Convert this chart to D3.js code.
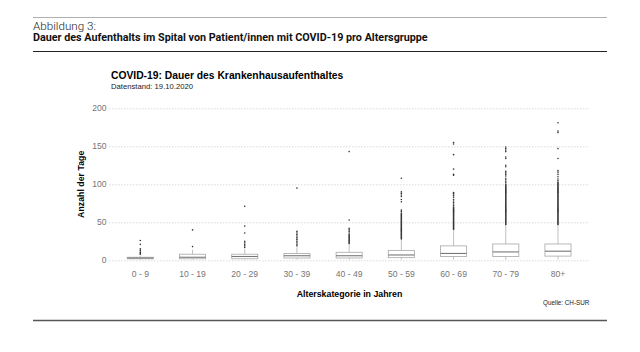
<!DOCTYPE html>
<html>
<head>
<meta charset="utf-8">
<script src="https://cdn.jsdelivr.net/npm/d3@7"></script>
<style>
  body { margin: 0; background: #fff; }
  svg { display: block; }
  .r { font-family: "Liberation Sans", Arial, sans-serif; }
  .hd { font-family: Roboto, "DejaVu Sans", sans-serif; }
</style>
</head>
<body>
<svg id="chart" width="640" height="352"></svg>
<script>
// age groups
var categories = ["0 - 9", "10 - 19", "20 - 29", "30 - 39", "40 - 49", "50 - 59", "60 - 69", "70 - 79", "80+"];

// box statistics (days)
var whiskerLow  = [1, 1, 1, 1, 1, 1, 1, 1, 1];
var q1          = [2, 2, 2, 3, 3, 3.5, 5, 5, 5.5];
var medians     = [3, 4, 5, 6, 6, 7, 9, 11, 12];
var q3          = [4, 8, 8, 9, 10.5, 13, 19, 21.5, 21.5];
var whiskerHigh = [6, 14, 15, 17, 21, 27, 40, 46, 46];

// outliers per age group
var out0to9   = [8, 9, 10, 11, 13, 15, 21, 26];
var out10to19 = [18, 40];
var out20to29 = [17, 19, 21, 23, 25, 36, 45, 71];
var out30to39 = [19, 21, 23, 25, 27, 28, 30, 32, 34, 36, 38, 95];
var out40to49 = [22, 23, 24, 25, 26, 27, 28, 29, 30, 31, 32, 33, 34, 36, 38, 40, 42, 53, 143];
var out50to59 = [28, 29, 30, 31, 32, 33, 34, 35, 36, 37, 38, 39, 40, 41, 42, 43, 44, 45, 46, 47,
                 48, 49, 50, 51, 52, 53, 54, 55, 56, 57, 58, 59, 60, 61, 62, 64, 66, 77, 80, 84,
                 86, 88, 90, 108];
var out60to69 = [41, 42, 43, 44, 45, 46, 47, 48, 49, 50, 51, 52, 53, 54, 55, 56, 57, 58, 59, 60,
                 61, 62, 63, 64, 65, 66, 67, 68, 69, 70, 72, 74, 76, 78, 80, 83, 85, 86, 88, 89,
                 112, 113, 120, 139, 153, 155];
var out70to79 = [47, 48, 49, 50, 51, 52, 53, 54, 55, 56, 57, 58, 59, 60, 61, 62, 63, 64, 65, 66,
                 67, 68, 69, 70, 71, 72, 73, 74, 75, 76, 77, 78, 79, 80, 81, 82, 83, 84, 85, 86,
                 87, 88, 89, 90, 91, 92, 93, 94, 95, 96, 97, 98, 99, 100, 102, 104, 106, 108,
                 111, 113, 115, 117, 123, 125, 134, 136, 143, 145, 147, 149];
var out80plus = [47, 48, 49, 50, 51, 52, 53, 54, 55, 56, 57, 58, 59, 60, 61, 62, 63, 64, 65, 66,
                 67, 68, 69, 70, 71, 72, 73, 74, 75, 76, 77, 78, 79, 80, 81, 82, 83, 84, 85, 86,
                 87, 88, 89, 90, 91, 92, 93, 94, 95, 96, 97, 98, 99, 100, 101, 102, 103, 105,
                 107, 110, 113, 116, 118, 134, 147, 168, 170, 181];
var outliers = [out0to9, out10to19, out20to29, out30to39, out40to49, out50to59, out60to69, out70to79, out80plus];

var yTicks = [0, 50, 100, 150, 200];

var svg = d3.select('#chart');

// shrink/grow a text node's font so it spans the given width
function fitWidth(sel, width) {
    var size = parseFloat(sel.attr('font-size'));
    var len = sel.node().getComputedTextLength();
    if (len > 0) sel.attr('font-size', (size * width / len).toFixed(2));
}

// --- page header (report frame) ---
svg.append('line').attr('x1', 33).attr('x2', 607).attr('y1', 17.5).attr('y2', 17.5)
    .attr('stroke', '#b0b0b0').attr('stroke-width', 1);
var fig = svg.append('text').attr('class', 'hd').attr('x', 33).attr('y', 29.5)
    .attr('font-size', 10).attr('font-weight', 300).attr('fill', '#222')
    .text('Abbildung 3:');
fitWidth(fig, 63);
var head = svg.append('text').attr('class', 'hd').attr('x', 33).attr('y', 41)
    .attr('font-size', 9.6).attr('font-weight', 700).attr('fill', '#111')
    .text('Dauer des Aufenthalts im Spital von Patient/innen mit COVID-19 pro Altersgruppe');
fitWidth(head, 395);
svg.append('line').attr('x1', 33).attr('x2', 607).attr('y1', 51.5).attr('y2', 51.5)
    .attr('stroke', '#222').attr('stroke-width', 1.2);
svg.append('line').attr('x1', 33).attr('x2', 607).attr('y1', 320.5).attr('y2', 320.5)
    .attr('stroke', '#555').attr('stroke-width', 1.4);

// --- chart titles ---
svg.append('text').attr('class', 'r').attr('x', 111).attr('y', 78.5)
    .attr('font-size', 10.3).attr('font-weight', 'bold').attr('fill', '#000')
    .text('COVID-19: Dauer des Krankenhausaufenthaltes');
svg.append('text').attr('class', 'r').attr('x', 111).attr('y', 88.5)
    .attr('font-size', 7.7).attr('fill', '#222')
    .text('Datenstand: 19.10.2020');

// --- scales ---
var x = d3.scalePoint().domain(categories).range([109, 589.3]).padding(0.6);
var y = d3.scaleLinear().domain([0, 200]).range([260.3, 108.3]);
var boxW = x.step() * 0.5;

// gridlines
svg.append('g').selectAll('line')
    .data(yTicks)
    .enter().append('line')
    .attr('x1', 109).attr('x2', 589.3)
    .attr('y1', function (d) { return y(d) + 0.5; })
    .attr('y2', function (d) { return y(d) + 0.5; })
    .attr('stroke', '#cfcfcf').attr('stroke-width', 0.8)
    .attr('stroke-dasharray', '1.5,1.5');

// y axis labels
svg.append('g').selectAll('text')
    .data(yTicks)
    .enter().append('text')
    .attr('class', 'r')
    .attr('x', 106.5)
    .attr('y', function (d) { return y(d); })
    .attr('dy', '0.35em')
    .attr('text-anchor', 'end')
    .attr('font-size', 8.6).attr('fill', '#757575')
    .text(function (d) { return d; });

// x axis labels
svg.append('g').selectAll('text')
    .data(categories)
    .enter().append('text')
    .attr('class', 'r')
    .attr('x', function (d) { return x(d); })
    .attr('y', 277)
    .attr('text-anchor', 'middle')
    .attr('font-size', 8.6).attr('fill', '#757575')
    .text(function (d) { return d; });

// axis titles
svg.append('text').attr('class', 'r')
    .attr('transform', 'translate(84,184.3) rotate(-90)')
    .attr('text-anchor', 'middle')
    .attr('font-size', 8.8).attr('font-weight', 'bold')
    .text('Anzahl der Tage');
svg.append('text').attr('class', 'r')
    .attr('x', 349.5).attr('y', 296.5)
    .attr('text-anchor', 'middle')
    .attr('font-size', 8.8).attr('font-weight', 'bold')
    .text('Alterskategorie in Jahren');

// caption
svg.append('text').attr('class', 'r')
    .attr('x', 589.3).attr('y', 305)
    .attr('text-anchor', 'end')
    .attr('font-size', 6.3).attr('fill', '#222')
    .text('Quelle: CH-SUR');

// --- boxplots ---
var boxes = svg.append('g').selectAll('g')
    .data(categories)
    .enter().append('g');

// whiskers
boxes.append('line')
    .attr('x1', function (d) { return x(d); })
    .attr('x2', function (d) { return x(d); })
    .attr('y1', function (d, i) { return y(whiskerHigh[i]); })
    .attr('y2', function (d, i) { return y(q3[i]); })
    .attr('stroke', '#b0b0b0').attr('stroke-width', 0.8);
boxes.append('line')
    .attr('x1', function (d) { return x(d); })
    .attr('x2', function (d) { return x(d); })
    .attr('y1', function (d, i) { return y(q1[i]); })
    .attr('y2', function (d, i) { return y(whiskerLow[i]); })
    .attr('stroke', '#b0b0b0').attr('stroke-width', 0.8);

boxes.append('rect')
    .attr('x', function (d) { return x(d) - boxW / 2; })
    .attr('y', function (d, i) { return y(q3[i]); })
    .attr('width', boxW)
    .attr('height', function (d, i) { return y(q1[i]) - y(q3[i]); })
    .attr('fill', '#fff').attr('stroke', '#b0b0b0').attr('stroke-width', 0.9);

boxes.append('line')
    .attr('x1', function (d) { return x(d) - boxW / 2; })
    .attr('x2', function (d) { return x(d) + boxW / 2; })
    .attr('y1', function (d, i) { return y(medians[i]); })
    .attr('y2', function (d, i) { return y(medians[i]); })
    .attr('stroke', '#777').attr('stroke-width', 1.1);

// outliers
boxes.each(function (d, i) {
    d3.select(this).selectAll('circle')
        .data(outliers[i])
        .enter().append('circle')
        .attr('cx', x(d))
        .attr('cy', function (v) { return y(v); })
        .attr('r', 0.8)
        .attr('fill', '#333');
});
</script>
</body>
</html>
